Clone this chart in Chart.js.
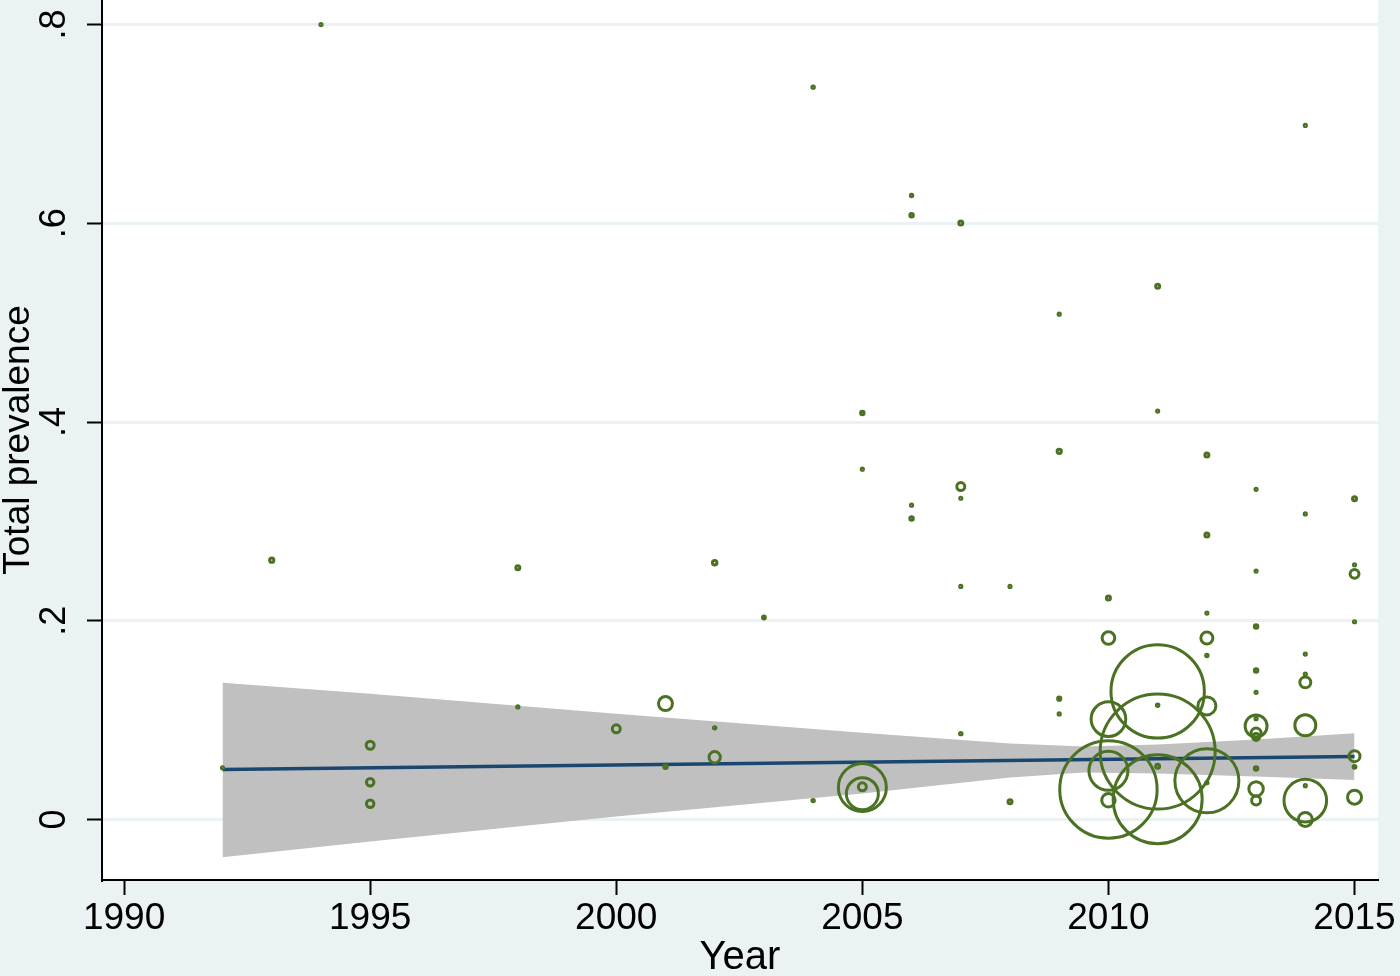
<!DOCTYPE html>
<html>
<head>
<meta charset="utf-8">
<script src="https://cdn.jsdelivr.net/npm/chart.js"></script>
<style>
  html, body { margin: 0; padding: 0; background: #eaf2f3; }
  #chart { display: block; }
</style>
</head>
<body>
<canvas id="chart" width="1400" height="976"></canvas>
<script>
// study-level observations: year, total prevalence, weight (bubble area)
var years = [
    1992, 1993, 1994,
    1995, 1995, 1995,
    1998, 1998,
    2000,
    2001, 2001,
    2002, 2002, 2002,
    2003,
    2004, 2004,
    2005, 2005, 2005, 2005, 2005,
    2006, 2006, 2006, 2006,
    2007, 2007, 2007, 2007, 2007,
    2008, 2008,
    2009, 2009, 2009, 2009,
    2010, 2010, 2010, 2010, 2010, 2010,
    2011, 2011, 2011, 2011, 2011, 2011, 2011,
    2012, 2012, 2012, 2012, 2012, 2012, 2012, 2012,
    2013, 2013, 2013, 2013, 2013, 2013, 2013, 2013, 2013, 2013, 2013, 2013,
    2014, 2014, 2014, 2014, 2014, 2014, 2014, 2014, 2014,
    2015, 2015, 2015, 2015, 2015, 2015, 2015
];
var prevalence = [
    0.052, 0.261, 0.800,
    0.0747, 0.0375, 0.0158,
    0.2533, 0.1133,
    0.0912,
    0.1166, 0.053,
    0.2583, 0.0922, 0.0626,
    0.2033,
    0.737, 0.019,
    0.409, 0.3525, 0.0322, 0.026, 0.0329,
    0.628, 0.608, 0.3163, 0.303,
    0.6003, 0.335, 0.3233, 0.2345, 0.0864,
    0.2345, 0.0178,
    0.5085, 0.3705, 0.1216, 0.1062,
    0.2228, 0.1826, 0.101, 0.049, 0.0194, 0.0302,
    0.5367, 0.411, 0.1289, 0.0683, 0.0204, 0.1149, 0.0536,
    0.3668, 0.2864, 0.2077, 0.1826, 0.165, 0.1143, 0.0389, 0.037,
    0.3323, 0.25, 0.1943, 0.150, 0.128, 0.1015, 0.094, 0.087, 0.083, 0.0513, 0.0308, 0.0191,
    0.6985, 0.3075, 0.1665, 0.1464, 0.138, 0.0948, 0.019, 0.034, 0.0,
    0.3229, 0.2563, 0.2472, 0.199, 0.0637, 0.053, 0.0224
];
var weight = [
    1.2, 4.5, 1.2,
    16, 14, 14,
    4, 1.2,
    16,
    49, 3,
    5, 1.5, 32,
    2,
    1.5, 1.5,
    3, 1.2, 576, 256, 16,
    1.5, 3, 1.2, 3,
    4, 16, 1.2, 1.2, 1.5,
    1.2, 4,
    1.2, 4.5, 2.5, 1.2,
    4, 40, 300, 380, 45, 2370,
    4, 1.2, 2180, 3306, 1980, 1.5, 4,
    4, 4, 1.2, 36, 1.5, 81, 1024, 1.2,
    1.2, 1.2, 3, 3, 1.2, 1.2, 121, 25, 12, 3, 52, 20,
    1.2, 1.2, 1.2, 1.2, 30, 110, 454, 1.2, 49,
    4, 1.2, 20, 1.2, 30, 2, 49
];

// linear fit and 95% CI
var fitYears = [1992, 2015];
var fitValues = [0.0503, 0.0633];
var bandYears = [1992, 1995, 2000, 2005, 2008, 2009.5, 2011, 2013, 2015];
var bandUpper = [0.1377, 0.1266, 0.1065, 0.0874, 0.0764, 0.0734, 0.0754, 0.0804, 0.0869];
var bandLower = [-0.0379, -0.0221, 0.003, 0.0261, 0.0422, 0.0472, 0.0462, 0.0432, 0.0397];

var sans = '"Liberation Sans", Arial, sans-serif';

function pairs(xs, ys) {
    return xs.map(function(x, i) { return {x: x, y: ys[i]}; });
}

var bubbles = years.map(function(y, i) {
    return {x: y, y: prevalence[i], r: Math.sqrt(weight[i])};
});

// white plot region on the bluish-grey graph region
var plotRegion = {
    id: 'plotRegion',
    beforeDraw: function(chart) {
        var a = chart.chartArea, ctx = chart.ctx;
        ctx.save();
        ctx.fillStyle = '#ffffff';
        ctx.fillRect(a.left, a.top, a.right - a.left, a.bottom - a.top);
        ctx.restore();
    }
};

var ctx = document.getElementById('chart').getContext('2d');
var chart = new Chart(ctx, {
    type: 'bubble',
    data: {
        datasets: [{
            type: 'bubble',
            label: 'Total prevalence',
            data: bubbles,
            borderColor: '#4b7123',
            backgroundColor: 'rgba(0,0,0,0)',
            borderWidth: 3,
            order: 0
        }, {
            type: 'line',
            label: 'Fitted values',
            data: pairs(fitYears, fitValues),
            borderColor: '#1a476f',
            borderWidth: 3.5,
            pointRadius: 0,
            fill: false,
            order: 1
        }, {
            type: 'line',
            label: '95% CI upper',
            data: pairs(bandYears, bandUpper),
            borderWidth: 0,
            borderColor: 'rgba(0,0,0,0)',
            backgroundColor: '#c0c0c0',
            pointRadius: 0,
            fill: '+1',
            order: 2
        }, {
            type: 'line',
            label: '95% CI lower',
            data: pairs(bandYears, bandLower),
            borderWidth: 0,
            borderColor: 'rgba(0,0,0,0)',
            pointRadius: 0,
            fill: false,
            order: 2
        }]
    },
    options: {
        responsive: false,
        animation: false,
        events: [],
        layout: { autoPadding: false, padding: { left: 0, right: 22, top: 0, bottom: 0 } },
        plugins: {
            legend: { display: false },
            tooltip: { enabled: false }
        },
        scales: {
            x: {
                type: 'linear',
                min: 1989.551,
                max: 2015.477,
                border: { color: '#000', width: 2 },
                grid: {
                    drawOnChartArea: false,
                    tickLength: 15,
                    tickColor: '#000',
                    tickWidth: 2
                },
                ticks: {
                    stepSize: 5,
                    includeBounds: false,
                    color: '#000',
                    padding: 2,
                    maxRotation: 0,
                    font: { family: sans, size: 37, lineHeight: 1.2 },
                    callback: function(v) { return String(v); }
                },
                title: {
                    display: true,
                    text: 'Year',
                    color: '#000',
                    padding: 0,
                    font: { family: sans, size: 40, lineHeight: 0.9 }
                },
                afterFit: function(s) {
                    s.height = 96;
                    s.paddingLeft = 0;
                    s.paddingRight = 0;
                }
            },
            y: {
                type: 'linear',
                min: -0.0609,
                max: 0.8247,
                border: { color: '#000', width: 2 },
                grid: {
                    color: '#eaf2f3',
                    lineWidth: 3,
                    tickLength: 15,
                    tickColor: '#000',
                    tickWidth: 2
                },
                ticks: {
                    stepSize: 0.2,
                    includeBounds: false,
                    color: '#000',
                    minRotation: 90,
                    maxRotation: 90,
                    crossAlign: 'center',
                    padding: 17,
                    font: { family: sans, size: 36, lineHeight: 1.2 },
                    callback: function(v) {
                        if (Math.abs(v) < 1e-9) return '0';
                        return v.toFixed(1).replace(/^0/, '');
                    }
                },
                title: {
                    display: true,
                    text: 'Total prevalence',
                    color: '#000',
                    padding: 0,
                    font: { family: sans, size: 37, lineHeight: 1.0 }
                },
                afterFit: function(s) {
                    s.width = 102;
                    s.paddingTop = 0;
                    s.paddingBottom = 0;
                }
            }
        }
    },
    plugins: [plotRegion]
});
</script>
</body>
</html>
